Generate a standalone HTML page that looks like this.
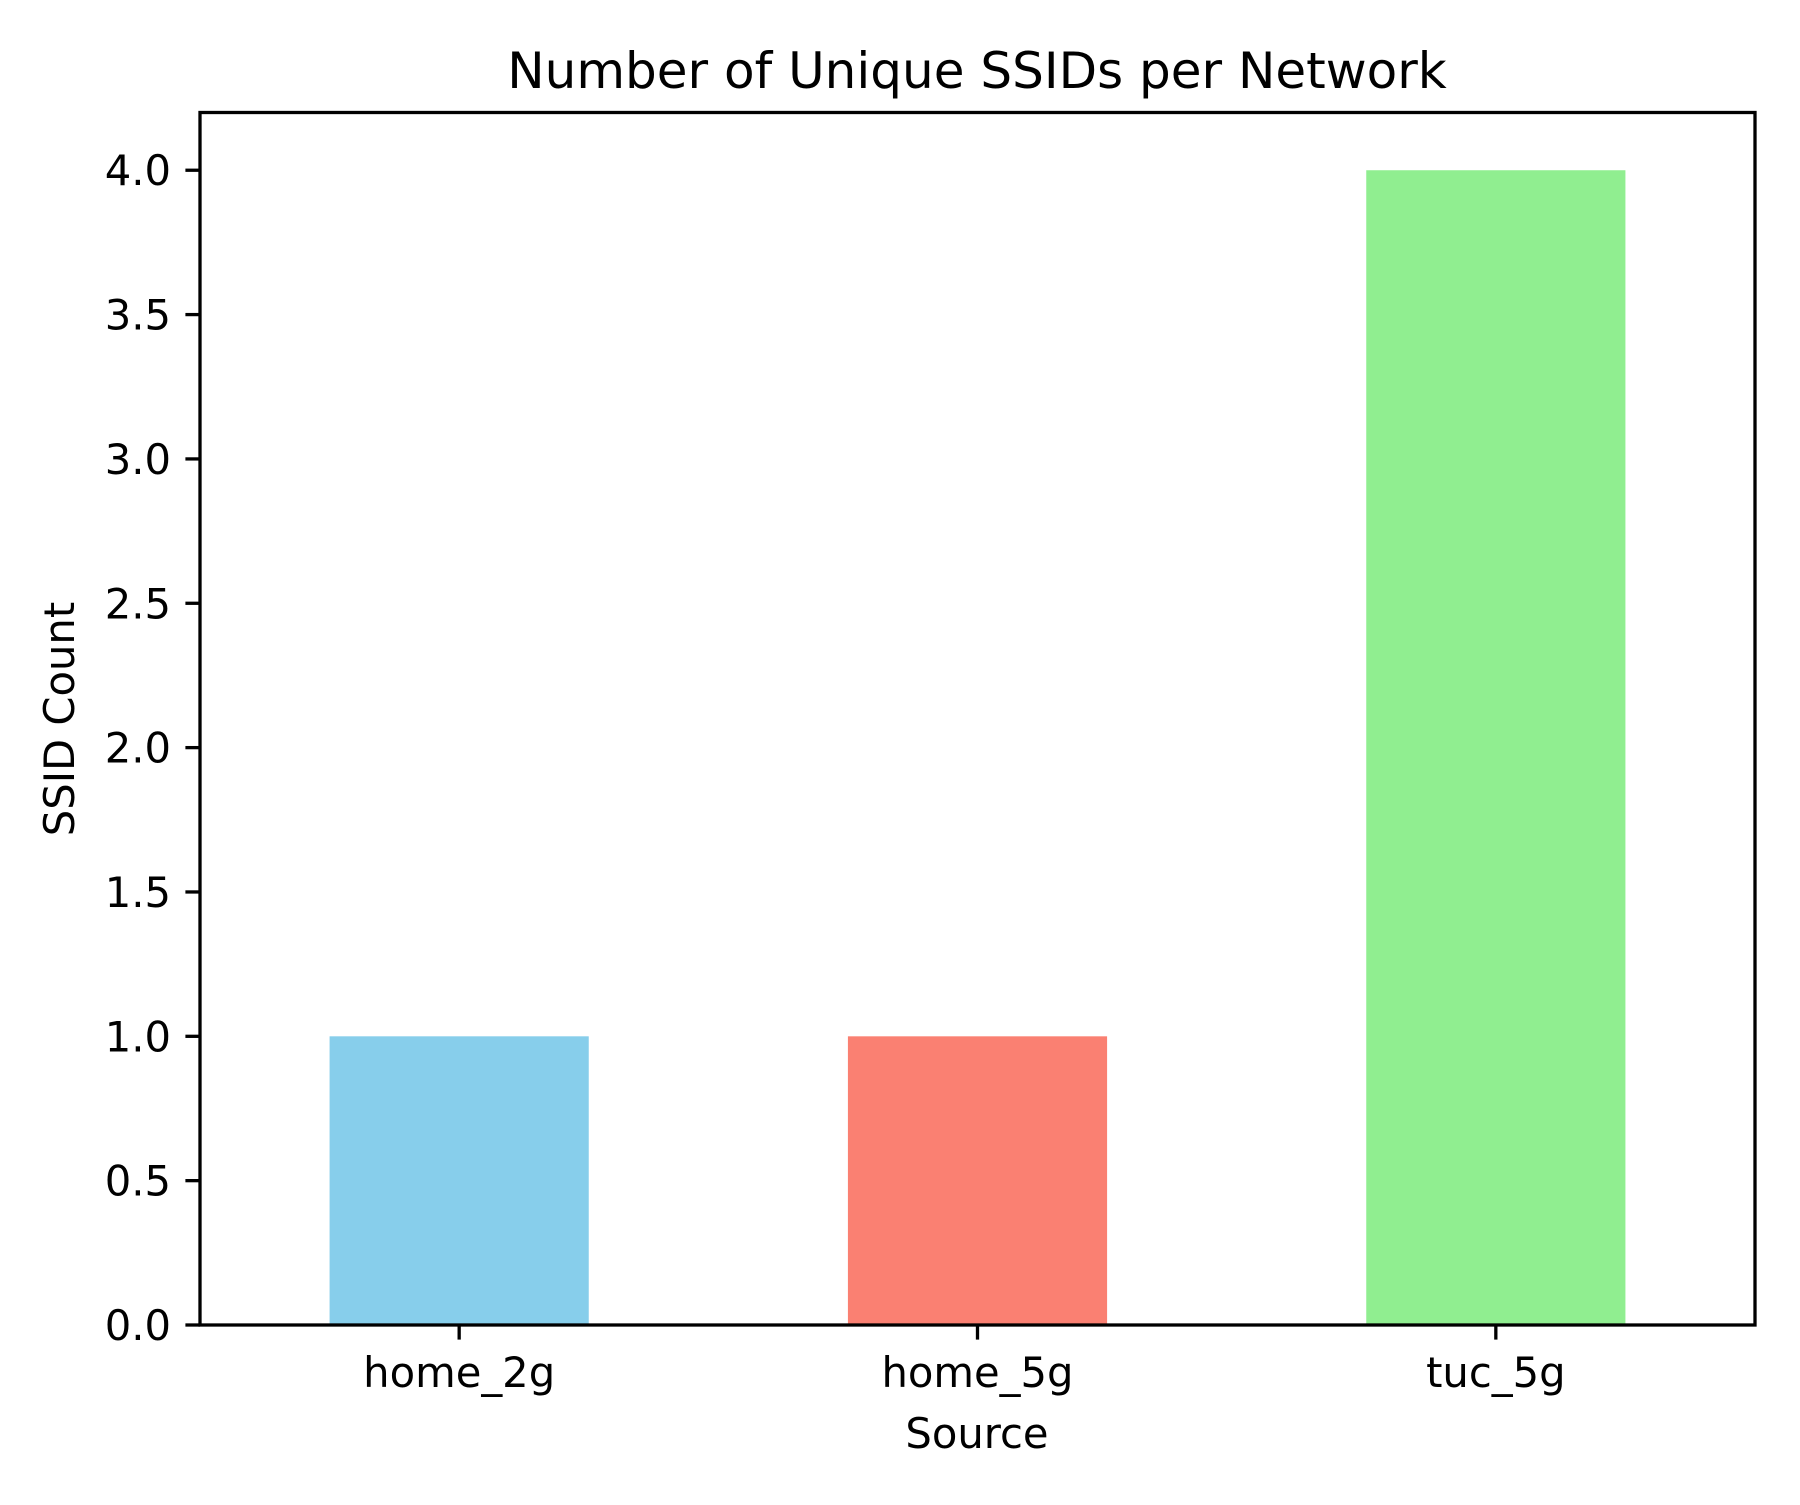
<!DOCTYPE html>
<html><head><meta charset="utf-8"><style>html,body{margin:0;padding:0;background:#fff}svg text{font-family:"DejaVu Sans","Liberation Sans",sans-serif;fill:#000}</style></head>
<body>
<svg id="chart" width="1800" height="1500" xmlns="http://www.w3.org/2000/svg">
<rect width="1800" height="1500" fill="#fff"/>
<text x="977" y="88" font-size="50" text-anchor="middle">Number of Unique SSIDs per Network</text>
<g id="bars"></g>
<g id="yticks"></g>
<g id="xticks"></g>
<rect x="200" y="112.5" width="1555" height="1212.5" fill="none" stroke="#000" stroke-width="3.3"/>
<text x="977" y="1448" font-size="41.7" text-anchor="middle">Source</text>
<text x="0" y="0" font-size="41.7" text-anchor="middle" transform="translate(74,719) rotate(-90)">SSID Count</text>
</svg>
<script>
const categories = ["home_2g", "home_5g", "tuc_5g"];
const counts = [1, 1, 4];
const barColors = ["#87ceeb", "#fa8072", "#90ee90"];
const yTickValues = [0, 0.5, 1, 1.5, 2, 2.5, 3, 3.5, 4];
const yTickLabels = ["0.0","0.5","1.0","1.5","2.0","2.5","3.0","3.5","4.0"];

const L=200,R=1755,T=112.5,B=1325,YMAX=4.2;
const NS="http://www.w3.org/2000/svg";
function xs(i){return L+(i+0.5)*(R-L)/categories.length;}
function ys(v){return B-v*(B-T)/YMAX;}
const bw=0.5*(R-L)/categories.length;
const bars=document.getElementById('bars');
categories.forEach((c,i)=>{
  const r=document.createElementNS(NS,'rect');
  
  
  r.setAttribute('x',xs(i)-bw/2);r.setAttribute('width',bw);
  r.setAttribute('y',ys(counts[i]));r.setAttribute('height',B-ys(counts[i]));
  r.setAttribute('fill',barColors[i]);
  bars.appendChild(r);
});
const yt=document.getElementById('yticks');
yTickValues.forEach((v,i)=>{
  const y=ys(v);
  const l=document.createElementNS(NS,'line');
  
  
  l.setAttribute('x1',L-14.6);l.setAttribute('x2',L);l.setAttribute('y1',y);l.setAttribute('y2',y);
  l.setAttribute('stroke','#000');l.setAttribute('stroke-width','3.3');
  yt.appendChild(l);
  const t=document.createElementNS(NS,'text');
  
  
  t.setAttribute('x',L-29);t.setAttribute('y',y+15);
  t.setAttribute('font-size','41.7');t.setAttribute('text-anchor','end');
  t.textContent=yTickLabels[i];
  yt.appendChild(t);
});
const xt=document.getElementById('xticks');
categories.forEach((c,i)=>{
  const x=xs(i);
  const l=document.createElementNS(NS,'line');
  
  
  l.setAttribute('x1',x);l.setAttribute('x2',x);l.setAttribute('y1',B);l.setAttribute('y2',B+14.6);
  l.setAttribute('stroke','#000');l.setAttribute('stroke-width','3.3');
  xt.appendChild(l);
  const t=document.createElementNS(NS,'text');
  
  
  t.setAttribute('x',x);t.setAttribute('y',B+62);
  t.setAttribute('font-size','41.7');t.setAttribute('text-anchor','middle');
  t.textContent=c;
  xt.appendChild(t);
});
</script>
</body></html>
